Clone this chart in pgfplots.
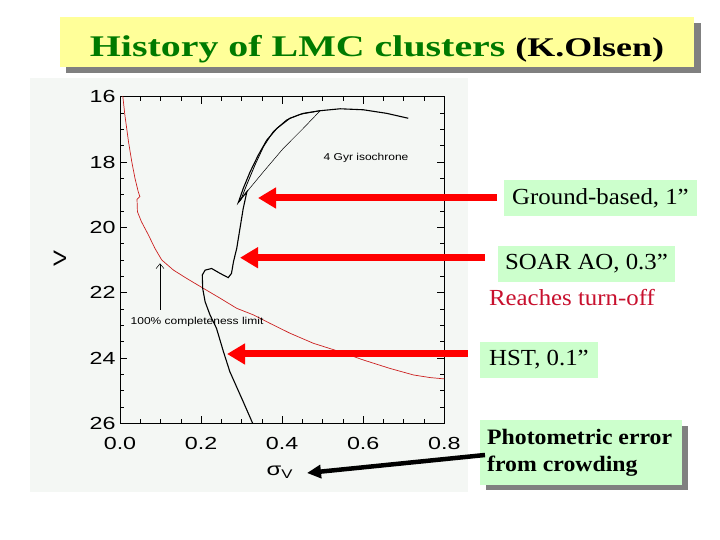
\documentclass[border=0pt]{standalone}
\usepackage{fontspec}
\setmainfont{Liberation Serif}
\newfontfamily\axisf[FakeStretch=1.33]{Liberation Sans}
\newfontfamily\smallf[FakeStretch=1.2]{Liberation Sans}
\newfontfamily\titlef[FakeStretch=1.33]{Liberation Serif}
\newfontfamily\boxf[FakeStretch=1.08]{Liberation Serif}
\usepackage{pgfplots}
\pgfplotsset{compat=1.18}
\usetikzlibrary{arrows.meta}
\definecolor{titlegreen}{HTML}{007A00}
\definecolor{titleyellow}{HTML}{FFFF99}
\definecolor{boxgreen}{HTML}{CCFFCC}
\definecolor{shadowgrey}{HTML}{808080}
\definecolor{panelgrey}{HTML}{F4F7F4}
\definecolor{curvered}{HTML}{CC2020}
\definecolor{turnred}{HTML}{C8102E}
\begin{document}
\begin{tikzpicture}
\path[use as bounding box, fill=white] (0bp,0bp) rectangle (720bp,540bp);
% plot panel
\fill[panelgrey] (30bp,48bp) rectangle (468bp,462bp);
\begin{axis}[
  at={(120bp,116.7bp)}, anchor=south west,
  scale only axis, width=324.3bp, height=326.6bp,
  xmin=0, xmax=0.8, ymin=16, ymax=26, y dir=reverse,
  xtick={0,0.2,0.4,0.6,0.8}, ytick={16,18,20,22,24,26},
  minor x tick num=3, minor y tick num=3,
  tick align=inside,
  major tick length=7bp, minor tick length=4bp,
  axis line style={line width=0.8bp},
  every tick/.style={black, line width=0.6bp},
  /pgf/number format/assume math mode=true,
  xticklabel={\pgfmathprintnumber[fixed,fixed zerofill,precision=1]{\tick}},
  yticklabel={\pgfmathprintnumber[fixed,precision=0]{\tick}},
  tick label style={font=\axisf\fontsize{17.5bp}{20bp}\selectfont},
  xticklabel style={yshift=-10bp},
  yticklabel style={xshift=-1bp},
  clip mode=individual,
]
\addplot[curvered, line width=0.7bp] coordinates {
(0.0066,15.95) (0.012,16.56) (0.021,17.38) (0.029,17.99) (0.037,18.50)
(0.045,18.91) (0.049,19.06) (0.042,19.14) (0.043,19.52) (0.053,19.83)
(0.070,20.23) (0.086,20.64) (0.103,21.00) (0.132,21.31) (0.164,21.56)
(0.206,21.87) (0.247,22.17) (0.288,22.48) (0.329,22.68) (0.370,22.94)
(0.419,23.24) (0.477,23.55) (0.543,23.81) (0.600,24.06) (0.666,24.32)
(0.724,24.52) (0.765,24.60) (0.800,24.64)};
\addplot[black, line width=1.1bp] coordinates {
(0.329,26.05) (0.304,25.34) (0.271,24.42) (0.255,23.80) (0.238,23.09)
(0.222,22.68) (0.210,22.28) (0.204,21.87) (0.203,21.46) (0.210,21.31)
(0.226,21.26) (0.247,21.41) (0.267,21.54) (0.275,21.41) (0.280,21.05)
(0.288,20.64) (0.296,20.03) (0.304,19.42) (0.313,18.91) (0.316,18.86)
(0.292,19.235) (0.304,18.81) (0.321,18.30) (0.341,17.79) (0.362,17.33)
(0.387,16.97) (0.419,16.66) (0.452,16.51) (0.493,16.43) (0.543,16.37)
(0.600,16.40) (0.658,16.51) (0.711,16.66)};
\addplot[black, line width=0.8bp] coordinates {
(0.292,19.235) (0.298,19.16) (0.3125,18.70) (0.333,18.09) (0.354,17.53)
(0.378,17.07) (0.411,16.71) (0.444,16.54) (0.493,16.43)};
\addplot[black, line width=0.5bp] coordinates {
(0.3166,18.857) (0.354,18.296) (0.403,17.58) (0.452,16.97) (0.493,16.44)};
\draw[black, line width=0.5bp, -{Straight Barb[length=5bp,width=8bp]}] (axis cs:0.0987,22.53) -- (axis cs:0.0987,21.10);
\node[font=\smallf\fontsize{10bp}{12bp}\selectfont] at (axis cs:0.19,22.89) {100\% completeness limit};
\node[font=\smallf\fontsize{10bp}{12bp}\selectfont] at (axis cs:0.607,17.87) {4 Gyr isochrone};
\node[rotate=90, font=\axisf\fontsize{18bp}{20bp}\selectfont] at (axis description cs:-0.185,0.506) {V};
\node[font=\axisf\fontsize{18bp}{20bp}\selectfont] at (axis description cs:0.493,-0.149) {σ\textsubscript{V}};
\end{axis}
% title
\fill[shadowgrey] (66bp,467bp) rectangle (701bp,517bp);
\fill[titleyellow] (60bp,473bp) rectangle (694bp,523bp);
\node[anchor=base] at (377bp,483bp) {\titlef\bfseries\fontsize{30bp}{34bp}\selectfont\textcolor{titlegreen}{History of LMC clusters} \fontsize{27bp}{30bp}\selectfont(K.Olsen)};
% right boxes
\fill[boxgreen] (504bp,324bp) rectangle (697bp,360bp);
\node[font=\boxf\fontsize{23bp}{26bp}\selectfont] at (600.5bp,342bp) {Ground-based, 1”};
\fill[boxgreen] (498bp,258bp) rectangle (675bp,294bp);
\node[font=\boxf\fontsize{23bp}{26bp}\selectfont] at (586.5bp,276bp) {SOAR AO, 0.3”};
\node[text=turnred, font=\boxf\fontsize{23bp}{26bp}\selectfont] at (572bp,242bp) {Reaches turn-off};
\fill[boxgreen] (480bp,162bp) rectangle (598bp,198bp);
\node[font=\boxf\fontsize{23bp}{26bp}\selectfont] at (539bp,180bp) {HST, 0.1”};
\fill[shadowgrey] (486bp,50bp) rectangle (688bp,114bp);
\fill[boxgreen] (480bp,55bp) rectangle (682bp,120bp);
\node[anchor=west, align=left, inner sep=0pt, font=\boxf\bfseries\fontsize{22bp}{27bp}\selectfont] at (487bp,87bp) {Photometric error\\from crowding};
% arrows
\draw[red, line width=7bp, -{Triangle[length=18bp,width=20bp]}] (497bp,342bp) -- (258bp,342bp);
\draw[red, line width=7bp, -{Triangle[length=18bp,width=20bp]}] (485bp,282.3bp) -- (240bp,282.3bp);
\draw[red, line width=7bp, -{Triangle[length=18bp,width=20bp]}] (468bp,186bp) -- (227bp,186bp);
\draw[black, line width=4.5bp, -{Triangle[length=14bp,width=13bp]}] (485bp,85bp) -- (307bp,67bp);
\end{tikzpicture}
\end{document}
